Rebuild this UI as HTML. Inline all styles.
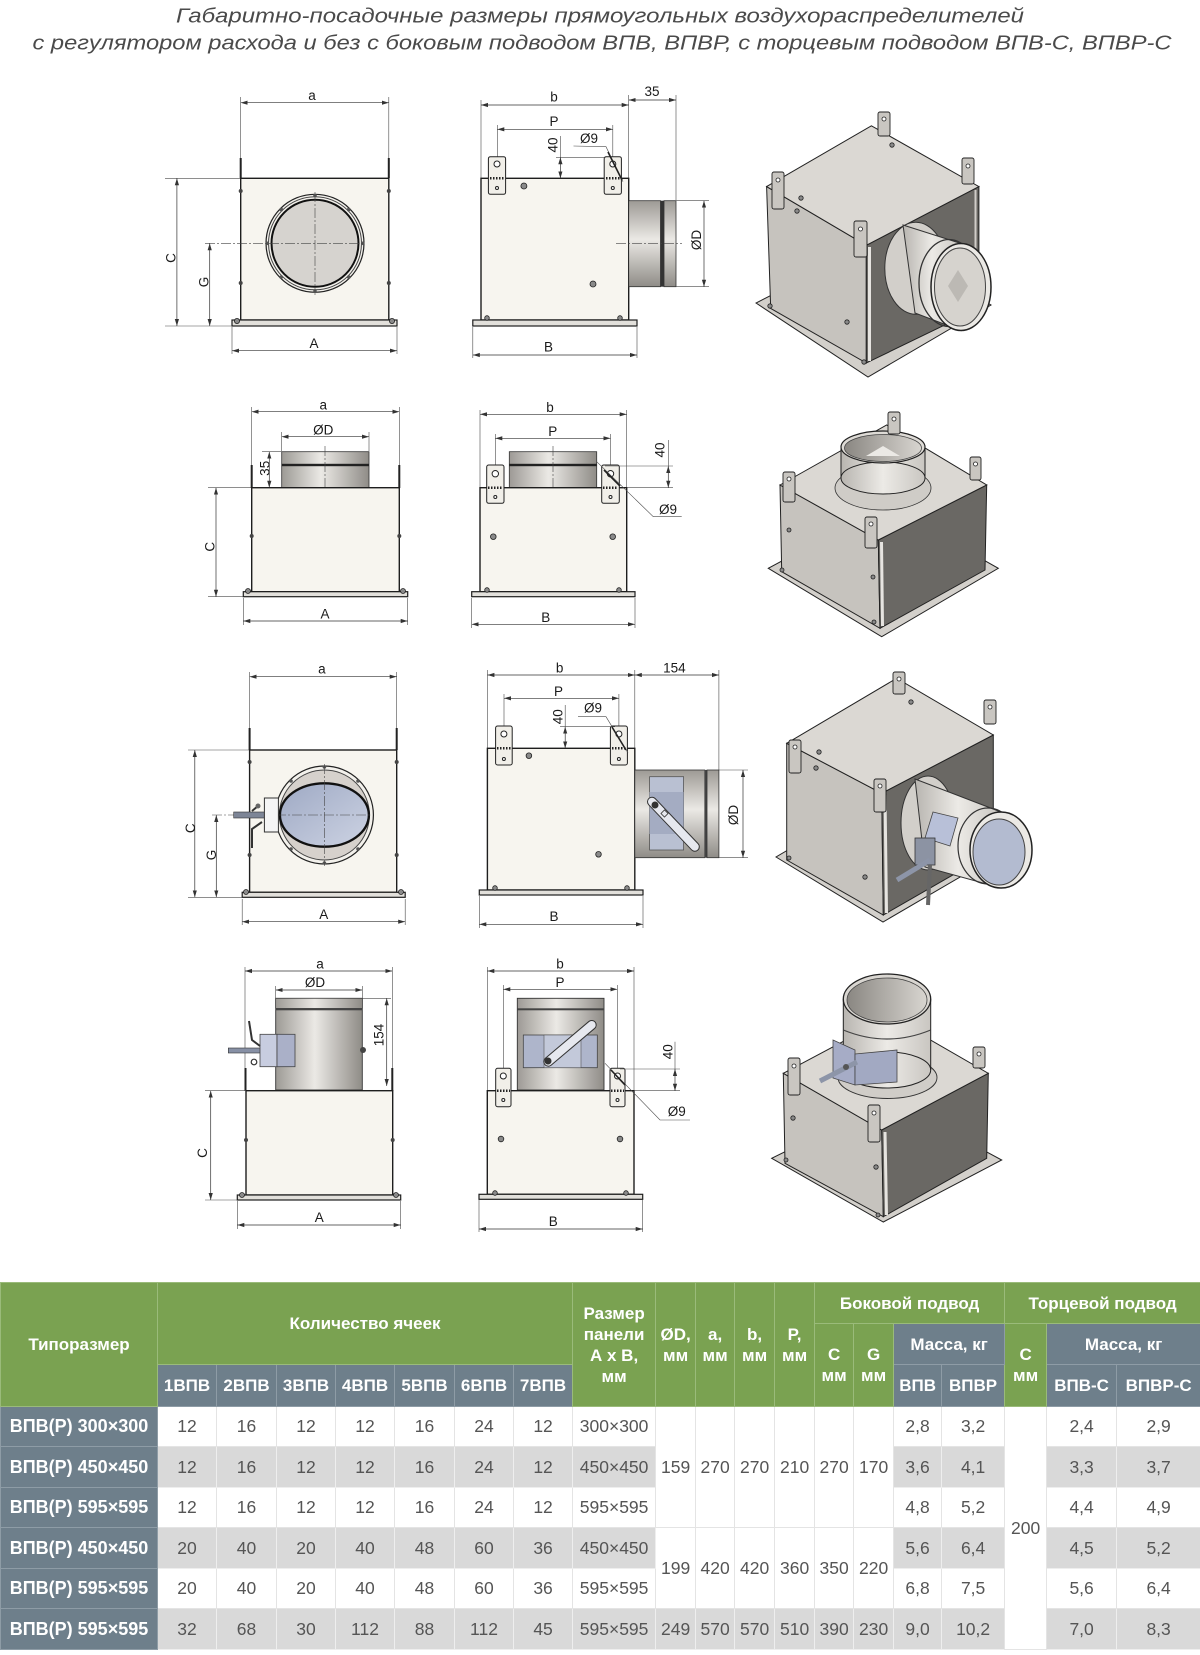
<!DOCTYPE html>
<html><head><meta charset="utf-8">
<style>
html,body{margin:0;padding:0;background:#fff}
body{width:1200px;height:1655px;position:relative;overflow:hidden;font-family:"Liberation Sans",sans-serif}
.e{stroke:#4a4a4a;stroke-width:.6;fill:none}
.d{stroke:#333;stroke-width:.7;fill:none;marker-start:url(#ar);marker-end:url(#ar)}
.c{stroke:#444;stroke-width:.6;stroke-dasharray:10 2 2 2;fill:none}
.bx{fill:#f7f5ef;stroke:#1e1e1e;stroke-width:1.4}
.fl{fill:#e2e0db;stroke:#1e1e1e;stroke-width:1.2}
.br{fill:#f1efe9;stroke:#222;stroke-width:1}
.t{font-family:"Liberation Sans",sans-serif;font-size:13.5px;fill:#1a1a1a;text-anchor:middle}
.sc{fill:#8a8a8a;stroke:#222;stroke-width:.8}
.tp{fill:#dbd8d3;stroke:#222;stroke-width:1}
.lf{fill:#c6c3be;stroke:#222;stroke-width:1}
.rf{fill:#6a6864;stroke:#222;stroke-width:1}
.fi{fill:#d3d0cb;stroke:#222;stroke-width:1}
.ib{fill:#c9c6c1;stroke:#222;stroke-width:.9}
.tk{stroke:#222;stroke-width:2}
table{position:absolute;left:0;top:1282px;width:1200px;border-collapse:collapse;table-layout:fixed}
td{padding:0;text-align:center;vertical-align:middle;overflow:hidden;white-space:nowrap;line-height:21px}
.g{background:#7aa251;color:#fff;font-weight:bold;font-size:17px;border:1px solid #9abb7a}
.s{background:#6e7f8b;color:#fff;font-weight:bold;font-size:17px;border:1px solid #8e9ca6}
.l{background:#6e7f8b;color:#fff;font-weight:bold;font-size:18px;border:1px solid #8e9ca6}
.w{background:#fff;color:#555;font-size:17.5px;border:1px solid #e4e4e4}
.k{background:#d9d9d9;color:#555;font-size:17.5px;border:1px solid #eeeeee}
</style></head><body>
<svg width="1200" height="1280" viewBox="0 0 1200 1280" style="position:absolute;left:0;top:0">
<defs>
<marker id="ar" viewBox="0 0 10 10" refX="10" refY="5" markerWidth="7" markerHeight="7" orient="auto-start-reverse" markerUnits="userSpaceOnUse"><path d="M0,2 L10,5 L0,8 z" fill="#333"/></marker>
<linearGradient id="gv" x1="0" y1="0" x2="0" y2="1"><stop offset="0" stop-color="#9d9a95"/><stop offset=".45" stop-color="#ebe9e5"/><stop offset="1" stop-color="#8f8c87"/></linearGradient>
<linearGradient id="gh" x1="0" y1="0" x2="1" y2="0"><stop offset="0" stop-color="#9d9a95"/><stop offset=".45" stop-color="#ebe9e5"/><stop offset="1" stop-color="#8f8c87"/></linearGradient>
<linearGradient id="gi" x1="0" y1="0" x2="1" y2="0"><stop offset="0" stop-color="#b8b5b0"/><stop offset=".5" stop-color="#eceae6"/><stop offset="1" stop-color="#c9c6c1"/></linearGradient>
<linearGradient id="gn" x1="0" y1="0" x2="1" y2="0"><stop offset="0" stop-color="#8a8782"/><stop offset="1" stop-color="#d8d5d0"/></linearGradient>
<linearGradient id="gb" x1="0" y1="0" x2="1" y2="1"><stop offset="0" stop-color="#9ea9c4"/><stop offset="1" stop-color="#cdd3e3"/></linearGradient>
</defs>

<!-- TITLE -->
<text x="600" y="22.5" text-anchor="middle" font-family="Liberation Sans, sans-serif" font-style="italic" font-size="20" fill="#4a4a4a" textLength="848" lengthAdjust="spacingAndGlyphs">Габаритно-посадочные размеры прямоугольных воздухораспределителей</text>
<text x="602" y="49.5" text-anchor="middle" font-family="Liberation Sans, sans-serif" font-style="italic" font-size="20" fill="#4a4a4a" textLength="1139" lengthAdjust="spacingAndGlyphs">с регулятором расхода и без с боковым подводом ВПВ, ВПВР, с торцевым подводом ВПВ-С, ВПВР-С</text>

<!-- ===== ROW 1 FRONT ===== -->
<line class="e" x1="240.7" y1="97" x2="240.7" y2="160"/>
<line class="e" x1="388.8" y1="97" x2="388.8" y2="160"/>
<line class="d" x1="240.7" y1="102.7" x2="388.8" y2="102.7"/>
<text class="t" x="312" y="100">a</text>
<line class="tk" x1="240.7" y1="158" x2="240.7" y2="178"/>
<line class="tk" x1="388.8" y1="158" x2="388.8" y2="178"/>
<rect class="bx" x="240.7" y="178.3" width="148.1" height="141.7"/>
<rect class="fl" x="232" y="320" width="165" height="6"/>
<circle class="sc" cx="237" cy="321" r="2.6"/><circle class="sc" cx="392" cy="321" r="2.6"/>
<circle cx="240.7" cy="191" r="2" fill="#444"/><circle cx="388.8" cy="191" r="2" fill="#444"/>
<circle cx="240.7" cy="283" r="2" fill="#444"/><circle cx="388.8" cy="283" r="2" fill="#444"/>
<circle cx="315" cy="243.3" r="49" fill="#f3f1ec" stroke="#222" stroke-width="1.2"/>
<circle cx="315" cy="243.3" r="46.5" fill="none" stroke="#444" stroke-width="1"/>
<circle cx="315" cy="243.3" r="43.5" fill="#d6d3cf" stroke="#111" stroke-width="2"/>
<g fill="#555"><circle cx="362.7" cy="243.3" r="1.8"/><circle cx="348.7" cy="209.6" r="1.8"/><circle cx="315" cy="195.6" r="1.8"/><circle cx="281.3" cy="209.6" r="1.8"/><circle cx="267.3" cy="243.3" r="1.8"/><circle cx="281.3" cy="277" r="1.8"/><circle cx="315" cy="291" r="1.8"/><circle cx="348.7" cy="277" r="1.8"/></g>
<line class="c" x1="205" y1="243.3" x2="364" y2="243.3"/>
<line class="c" x1="315" y1="192" x2="315" y2="295"/>
<line class="e" x1="165" y1="178.3" x2="240" y2="178.3"/>
<line class="e" x1="165" y1="326" x2="232" y2="326"/>
<line class="d" x1="176.9" y1="178.3" x2="176.9" y2="326"/>
<text class="t" transform="translate(175.5,258) rotate(-90)">C</text>
<line class="d" x1="209.7" y1="243.3" x2="209.7" y2="326"/>
<text class="t" transform="translate(208.5,282) rotate(-90)">G</text>
<line class="e" x1="232" y1="327" x2="232" y2="354"/>
<line class="e" x1="397" y1="327" x2="397" y2="354"/>
<line class="d" x1="232" y1="350.7" x2="397" y2="350.7"/>
<text class="t" x="314" y="348">A</text>

<!-- ===== ROW 1 SIDE ===== -->
<line class="e" x1="481" y1="100" x2="481" y2="178"/>
<line class="e" x1="628.7" y1="95" x2="628.7" y2="200"/>
<line class="e" x1="676" y1="95" x2="676" y2="200"/>
<line class="d" x1="481" y1="105" x2="628.7" y2="105"/>
<text class="t" x="554" y="101.5">b</text>
<line class="d" x1="628.7" y1="100" x2="676" y2="100"/>
<text class="t" x="652" y="96">35</text>
<line class="e" x1="497.3" y1="125" x2="497.3" y2="162"/>
<line class="e" x1="612.8" y1="125" x2="612.8" y2="162"/>
<line class="d" x1="497.3" y1="129.3" x2="612.8" y2="129.3"/>
<text class="t" x="554" y="126">P</text>
<rect class="bx" x="481" y="178.3" width="147.7" height="141.7"/>
<rect class="br" x="488.4" y="156.7" width="17.2" height="37.6" rx="2"/>
<rect class="br" x="604.2" y="156.7" width="17.2" height="37.6" rx="2"/>
<circle cx="497" cy="164" r="3" fill="#fff" stroke="#222"/><circle cx="612.8" cy="164" r="3" fill="#fff" stroke="#222"/>
<circle cx="497" cy="188" r="1.5" fill="#fff" stroke="#222"/><circle cx="612.8" cy="188" r="1.5" fill="#fff" stroke="#222"/>
<line x1="490" y1="178.3" x2="504" y2="178.3" stroke="#222" stroke-width="2.5" stroke-dasharray="1.5 1.5"/>
<line x1="606" y1="178.3" x2="620" y2="178.3" stroke="#222" stroke-width="2.5" stroke-dasharray="1.5 1.5"/>
<line class="e" x1="556" y1="157.3" x2="606" y2="157.3"/>
<line class="e" x1="560.4" y1="136" x2="560.4" y2="157.3"/>
<line class="d" x1="560.4" y1="157.3" x2="560.4" y2="178.3"/>
<text class="t" transform="translate(557.5,145) rotate(-90)">40</text>
<polyline class="e" points="573.5,146 606,146.7 623,181.7"/>
<line x1="608" y1="152" x2="622" y2="180" stroke="#222" stroke-width="1.6"/>
<text class="t" x="589" y="143">Ø9</text>
<rect x="628.7" y="200.7" width="31.8" height="86" fill="url(#gv)" stroke="#333" stroke-width=".8"/>
<rect x="660.5" y="200.7" width="3.5" height="86" fill="#333"/>
<rect x="664" y="200.7" width="12" height="86" fill="url(#gv)" stroke="#333" stroke-width=".8"/>
<line class="c" x1="616" y1="243.3" x2="682" y2="243.3"/>
<line class="e" x1="676" y1="200.7" x2="709" y2="200.7"/>
<line class="e" x1="676" y1="286.7" x2="709" y2="286.7"/>
<line class="d" x1="704" y1="200.7" x2="704" y2="286.7"/>
<text class="t" transform="translate(701,240) rotate(-90)">ØD</text>
<rect class="fl" x="472.8" y="320" width="164.2" height="6"/>
<circle class="sc" cx="487" cy="318" r="2.3"/><circle class="sc" cx="620" cy="318" r="2.3"/>
<circle class="sc" cx="523.9" cy="186" r="3"/><circle class="sc" cx="593" cy="284" r="3"/>
<line class="e" x1="472.8" y1="327" x2="472.8" y2="358"/>
<line class="e" x1="637" y1="327" x2="637" y2="358"/>
<line class="d" x1="472.8" y1="355" x2="637" y2="355"/>
<text class="t" x="548.5" y="351.5">B</text>

<!-- ===== ROW 1 ISO ===== -->
<polygon class="fi" points="756,303 868,377 991,305 880,240"/>
<polygon class="lf" points="766.6,186.6 866.3,245.3 866.3,363 770.7,308.4"/>
<polygon class="rf" points="866.3,245.3 978.9,186.6 978.9,308.4 866.3,363"/>
<polygon class="tp" points="766.6,186.6 871.4,125.8 978.9,186.6 866.3,245.3"/>
<line x1="869.5" y1="247" x2="869.5" y2="361" stroke="#e6e4e0" stroke-width="3"/>
<line x1="975.5" y1="190" x2="975.5" y2="306" stroke="#d0cdc8" stroke-width="2"/>
<ellipse cx="915.8" cy="268.3" rx="31" ry="46" fill="#d2cfca" stroke="#333" stroke-width="1"/>
<polygon points="903,225 961,243.5 961,330.5 915,313" fill="url(#gi)" stroke="#333" stroke-width="1"/>
<ellipse cx="949" cy="283" rx="30" ry="43.5" fill="none" stroke="#333" stroke-width="1.3"/>
<ellipse cx="961" cy="287" rx="30" ry="43.5" fill="#ebe9e5" stroke="#222" stroke-width="1.5"/>
<ellipse cx="960" cy="287" rx="25.5" ry="39" fill="#d6d3ce" stroke="#444" stroke-width="1"/>
<path d="M948 286 L958 270 L968 286 L958 302 Z" fill="#bcb9b4"/>
<g class="ib"><rect x="878" y="112" width="12" height="24" rx="2"/><rect x="772" y="172" width="12" height="37" rx="2"/><rect x="854" y="221" width="13" height="36" rx="2"/><rect x="962" y="158" width="12" height="26" rx="2"/></g>
<g fill="#fff" stroke="#222" stroke-width=".8"><circle cx="884" cy="119" r="2"/><circle cx="778" cy="180" r="2"/><circle cx="860.5" cy="229" r="2"/><circle cx="968" cy="166" r="2"/></g>
<g class="sc"><circle cx="892" cy="145" r="2.2"/><circle cx="801" cy="198" r="2.2"/><circle cx="797" cy="211" r="2.2"/><circle cx="847" cy="322" r="2.2"/><circle cx="770" cy="306" r="2.2"/><circle cx="864" cy="362" r="2.2"/></g>

<!-- ===== ROW 2 FRONT ===== -->
<line class="e" x1="251.7" y1="407" x2="251.7" y2="466"/>
<line class="e" x1="399.3" y1="407" x2="399.3" y2="466"/>
<line class="d" x1="251.7" y1="411.7" x2="399.3" y2="411.7"/>
<text class="t" x="323.3" y="409.5">a</text>
<line class="tk" x1="251.7" y1="465" x2="251.7" y2="488"/>
<line class="tk" x1="399.3" y1="465" x2="399.3" y2="488"/>
<line class="e" x1="281.7" y1="432" x2="281.7" y2="451"/>
<line class="e" x1="369" y1="432" x2="369" y2="451"/>
<line class="d" x1="281.7" y1="436.7" x2="369" y2="436.7"/>
<text class="t" x="323.3" y="434.5">ØD</text>
<rect x="281.7" y="451.7" width="87.3" height="36" fill="url(#gh)" stroke="#333" stroke-width=".8"/>
<rect x="281.7" y="463.8" width="87.3" height="2.4" fill="#222"/>
<line class="e" x1="262" y1="451.7" x2="281.7" y2="451.7"/>
<line class="d" x1="269.3" y1="451.7" x2="269.3" y2="487.7"/>
<text class="t" transform="translate(269.5,468.3) rotate(-90)">35</text>
<line class="c" x1="325" y1="446" x2="325" y2="494"/>
<rect class="bx" x="251.7" y="487.7" width="147.6" height="104"/>
<rect class="fl" x="243.3" y="591.7" width="164.4" height="5"/>
<circle class="sc" cx="248" cy="591" r="2.5"/><circle class="sc" cx="403" cy="591" r="2.5"/>
<circle cx="251.7" cy="536" r="2" fill="#444"/><circle cx="399.3" cy="536" r="2" fill="#444"/>
<line class="e" x1="208" y1="487.7" x2="251" y2="487.7"/>
<line class="e" x1="208" y1="596.7" x2="243" y2="596.7"/>
<line class="d" x1="216" y1="487.7" x2="216" y2="596.7"/>
<text class="t" transform="translate(214.5,546.7) rotate(-90)">C</text>
<line class="e" x1="243.3" y1="598" x2="243.3" y2="625"/>
<line class="e" x1="407.7" y1="598" x2="407.7" y2="625"/>
<line class="d" x1="243.3" y1="621" x2="407.7" y2="621"/>
<text class="t" x="325" y="618.5">A</text>

<!-- ===== ROW 2 SIDE ===== -->
<line class="e" x1="480" y1="410" x2="480" y2="488"/>
<line class="e" x1="626.7" y1="410" x2="626.7" y2="488"/>
<line class="d" x1="480" y1="414.3" x2="626.7" y2="414.3"/>
<text class="t" x="550" y="412">b</text>
<line class="e" x1="495.3" y1="434" x2="495.3" y2="470"/>
<line class="e" x1="610.5" y1="434" x2="610.5" y2="470"/>
<line class="d" x1="495.3" y1="438.3" x2="610.5" y2="438.3"/>
<text class="t" x="552.7" y="436">P</text>
<rect x="509.3" y="451.7" width="87.4" height="36" fill="url(#gh)" stroke="#333" stroke-width=".8"/>
<rect x="509.3" y="463.8" width="87.4" height="2.4" fill="#222"/>
<line class="c" x1="553" y1="446" x2="553" y2="500"/>
<rect class="bx" x="480" y="487.7" width="146.7" height="104"/>
<rect class="br" x="486.7" y="465" width="17.3" height="38.3" rx="2"/>
<rect class="br" x="601.7" y="465" width="17.6" height="38.3" rx="2"/>
<circle cx="495.3" cy="473.7" r="3.2" fill="#fff" stroke="#222"/><circle cx="610.5" cy="473.7" r="3.2" fill="#fff" stroke="#222"/>
<circle cx="495.3" cy="497" r="1.5" fill="#fff" stroke="#222"/><circle cx="610.5" cy="497" r="1.5" fill="#fff" stroke="#222"/>
<line x1="488" y1="487.7" x2="503" y2="487.7" stroke="#222" stroke-width="2.5" stroke-dasharray="1.5 1.5"/>
<line x1="603" y1="487.7" x2="618" y2="487.7" stroke="#222" stroke-width="2.5" stroke-dasharray="1.5 1.5"/>
<line class="e" x1="605" y1="466" x2="673" y2="466"/>
<line class="e" x1="627" y1="487.7" x2="673" y2="487.7"/>
<line class="e" x1="668.3" y1="440" x2="668.3" y2="466"/>
<line class="d" x1="668.3" y1="466" x2="668.3" y2="487.7"/>
<text class="t" transform="translate(664.5,450) rotate(-90)">40</text>
<polyline class="e" points="596.7,461.7 653.3,516.7 681.7,516.7"/>
<line x1="604" y1="470" x2="620" y2="486" stroke="#222" stroke-width="1.6"/>
<text class="t" x="668" y="514">Ø9</text>
<rect class="fl" x="471.7" y="591.7" width="163.3" height="5"/>
<circle class="sc" cx="487" cy="590" r="2.3"/><circle class="sc" cx="619" cy="590" r="2.3"/>
<circle class="sc" cx="493.3" cy="536.7" r="2.8"/><circle class="sc" cx="612.7" cy="536.7" r="2.8"/>
<line class="e" x1="471.7" y1="598" x2="471.7" y2="628"/>
<line class="e" x1="635" y1="598" x2="635" y2="628"/>
<line class="d" x1="471.7" y1="624.3" x2="635" y2="624.3"/>
<text class="t" x="545.7" y="622">B</text>

<!-- ===== ROW 2 ISO ===== -->
<polygon class="fi" points="768.3,568.3 881.7,636.7 998.3,568.3 886,505"/>
<polygon class="lf" points="780,485 878.3,540 880,628.3 781.7,571.7"/>
<polygon class="rf" points="878.3,540 986.7,485 985,570 880,628.3"/>
<polygon class="tp" points="780,485 886.7,425 986.7,485 878.3,540"/>
<line x1="881.5" y1="542" x2="882.5" y2="626" stroke="#e6e4e0" stroke-width="3"/>
<ellipse cx="883" cy="488" rx="48" ry="22" fill="#cfccc7" stroke="#333" stroke-width=".8"/>
<rect x="841" y="447" width="84" height="31" fill="url(#gi)"/>
<ellipse cx="883" cy="478" rx="42" ry="16" fill="url(#gi)" stroke="#222" stroke-width="1"/>
<line x1="841" y1="447" x2="841" y2="478" stroke="#222"/><line x1="925" y1="447" x2="925" y2="478" stroke="#222"/>
<ellipse cx="883" cy="447" rx="42" ry="16" fill="#dedbd6" stroke="#222" stroke-width="1.2"/>
<ellipse cx="883" cy="448" rx="38.5" ry="13.5" fill="url(#gn)" stroke="#444" stroke-width=".8"/>
<path d="M866 456 L883 446 L900 456 Z" fill="#ebe9e5"/>
<g class="ib"><rect x="888" y="412" width="12" height="22" rx="2"/><rect x="783" y="472" width="12" height="30" rx="2"/><rect x="865" y="517" width="12" height="31" rx="2"/><rect x="970" y="457" width="11" height="23" rx="2"/></g>
<g fill="#fff" stroke="#222" stroke-width=".8"><circle cx="894" cy="419" r="2"/><circle cx="789" cy="479" r="2"/><circle cx="871" cy="524" r="2"/><circle cx="975.5" cy="464" r="2"/></g>
<g class="sc"><circle cx="789" cy="530" r="2"/><circle cx="873" cy="577" r="2"/><circle cx="782" cy="570" r="2"/><circle cx="874" cy="622" r="2"/></g>

<!-- ===== ROW 3 FRONT ===== -->
<line class="e" x1="249.6" y1="672" x2="249.6" y2="730"/>
<line class="e" x1="396.7" y1="672" x2="396.7" y2="730"/>
<line class="d" x1="249.6" y1="676.7" x2="396.7" y2="676.7"/>
<text class="t" x="321.9" y="673.5">a</text>
<line class="tk" x1="249.6" y1="728" x2="249.6" y2="750"/>
<line class="tk" x1="396.7" y1="728" x2="396.7" y2="750"/>
<rect class="bx" x="249.6" y="750" width="147.1" height="142.3"/>
<rect class="fl" x="242.2" y="892.3" width="163" height="5"/>
<circle class="sc" cx="246" cy="892" r="2.5"/><circle class="sc" cx="401" cy="892" r="2.5"/>
<circle cx="249.6" cy="762" r="2" fill="#444"/><circle cx="396.7" cy="762" r="2" fill="#444"/>
<circle cx="249.6" cy="855" r="2" fill="#444"/><circle cx="396.7" cy="855" r="2" fill="#444"/>
<circle cx="324.4" cy="815" r="49" fill="#f3f1ec" stroke="#222" stroke-width="1.2"/>
<circle cx="324.4" cy="815" r="45" fill="#d6d1cc" stroke="#444" stroke-width="1"/>
<ellipse cx="324.4" cy="815" rx="44.5" ry="31.7" fill="url(#gb)" stroke="#111" stroke-width="2.4"/>
<g fill="#555"><circle cx="324.4" cy="767" r="1.8"/><circle cx="358" cy="781" r="1.8"/><circle cx="291" cy="781" r="1.8"/><circle cx="358" cy="849" r="1.8"/><circle cx="291" cy="849" r="1.8"/><circle cx="324.4" cy="863" r="1.8"/></g>
<line class="c" x1="212" y1="815" x2="372" y2="815"/>
<line class="c" x1="324.4" y1="764" x2="324.4" y2="866"/>
<rect x="233.7" y="812" width="44" height="6" fill="#7d8596" stroke="#333" stroke-width=".6"/>
<rect x="264.4" y="798" width="14" height="34" fill="#f5f5f5" stroke="#333" stroke-width="1"/>
<path d="M258 806 L252 811 M262 822 L252 829 L252 848" stroke="#333" stroke-width="2" fill="none"/>
<circle cx="258" cy="806" r="2.5" fill="#666"/>
<line class="e" x1="188" y1="750" x2="249" y2="750"/>
<line class="e" x1="188" y1="897.3" x2="242" y2="897.3"/>
<line class="d" x1="194.8" y1="750" x2="194.8" y2="897.3"/>
<text class="t" transform="translate(195,828.3) rotate(-90)">C</text>
<line class="d" x1="216.3" y1="815" x2="216.3" y2="897.3"/>
<text class="t" transform="translate(216,855) rotate(-90)">G</text>
<line class="e" x1="242.2" y1="899" x2="242.2" y2="925"/>
<line class="e" x1="405.2" y1="899" x2="405.2" y2="925"/>
<line class="d" x1="242.2" y1="921.7" x2="405.2" y2="921.7"/>
<text class="t" x="323.7" y="919">A</text>

<!-- ===== ROW 3 SIDE ===== -->
<line class="e" x1="487.4" y1="670" x2="487.4" y2="748"/>
<line class="e" x1="634.8" y1="670" x2="634.8" y2="770"/>
<line class="e" x1="718.9" y1="670" x2="718.9" y2="770"/>
<line class="d" x1="487.4" y1="675" x2="634.8" y2="675"/>
<text class="t" x="559.6" y="672.5">b</text>
<line class="d" x1="634.8" y1="675" x2="718.9" y2="675"/>
<text class="t" x="674.4" y="672.5">154</text>
<line class="e" x1="504" y1="694" x2="504" y2="732"/>
<line class="e" x1="618.9" y1="694" x2="618.9" y2="732"/>
<line class="d" x1="504" y1="698.3" x2="618.9" y2="698.3"/>
<text class="t" x="558.5" y="696">P</text>
<rect class="bx" x="487.4" y="748.3" width="147.4" height="141.7"/>
<rect class="br" x="495.6" y="726" width="16.6" height="39" rx="2"/>
<rect class="br" x="610.4" y="726" width="17" height="39" rx="2"/>
<circle cx="503.9" cy="734" r="3" fill="#fff" stroke="#222"/><circle cx="618.9" cy="734" r="3" fill="#fff" stroke="#222"/>
<circle cx="503.9" cy="759" r="1.5" fill="#fff" stroke="#222"/><circle cx="618.9" cy="759" r="1.5" fill="#fff" stroke="#222"/>
<line x1="497" y1="748.3" x2="511" y2="748.3" stroke="#222" stroke-width="2.5" stroke-dasharray="1.5 1.5"/>
<line x1="612" y1="748.3" x2="626" y2="748.3" stroke="#222" stroke-width="2.5" stroke-dasharray="1.5 1.5"/>
<line class="e" x1="560" y1="726.7" x2="615" y2="726.7"/>
<line class="e" x1="565.2" y1="705" x2="565.2" y2="726.7"/>
<line class="d" x1="565.2" y1="726.7" x2="565.2" y2="748.3"/>
<text class="t" transform="translate(562.5,716.7) rotate(-90)">40</text>
<polyline class="e" points="578,716.7 606,716.7 628,753"/>
<line x1="612" y1="727" x2="626" y2="750" stroke="#222" stroke-width="1.6"/>
<text class="t" x="593" y="712.5">Ø9</text>
<rect x="634.8" y="770" width="70" height="87.7" fill="url(#gv)" stroke="#333" stroke-width=".8"/>
<rect x="704.5" y="770" width="2.5" height="87.7" fill="#444"/>
<rect x="707" y="770" width="11.9" height="87.7" fill="url(#gv)" stroke="#333" stroke-width=".8"/>
<rect x="649.6" y="776.7" width="34" height="73.3" fill="#b9c0d2" stroke="#555" stroke-width=".8"/>
<rect x="649.6" y="792" width="34" height="42" fill="#a4acc2"/>
<line x1="652" y1="801.7" x2="694.8" y2="846.7" stroke="#333" stroke-width="10" stroke-linecap="round"/>
<line x1="652" y1="801.7" x2="694.8" y2="846.7" stroke="#e6e8ef" stroke-width="8" stroke-linecap="round"/>
<circle cx="655" cy="805" r="3.5" fill="#333"/>
<rect x="662" y="811" width="5" height="5" fill="none" stroke="#333" stroke-width=".8" transform="rotate(45 664.5 813.5)"/>
<line class="e" x1="719" y1="770" x2="748" y2="770"/>
<line class="e" x1="719" y1="857.7" x2="748" y2="857.7"/>
<line class="d" x1="743" y1="770" x2="743" y2="857.7"/>
<text class="t" transform="translate(738,815) rotate(-90)">ØD</text>
<rect class="fl" x="479.3" y="890" width="163.7" height="5"/>
<circle class="sc" cx="495" cy="888" r="2.3"/><circle class="sc" cx="627" cy="888" r="2.3"/>
<circle class="sc" cx="528.9" cy="755.7" r="2.8"/><circle class="sc" cx="598.5" cy="854.3" r="2.8"/>
<line class="e" x1="479.3" y1="896" x2="479.3" y2="928"/>
<line class="e" x1="643" y1="896" x2="643" y2="928"/>
<line class="d" x1="479.3" y1="924.3" x2="643" y2="924.3"/>
<text class="t" x="554" y="921">B</text>

<!-- ===== ROW 3 ISO ===== -->
<polygon class="fi" points="776,857 883,922 1003,852 890,790"/>
<polygon class="lf" points="786.7,743.3 881.7,793.3 883.3,915 786.7,860"/>
<polygon class="rf" points="881.7,793.3 993.3,735 993.3,851.7 883.3,915"/>
<polygon class="tp" points="786.7,743.3 896.7,678.3 993.3,735 881.7,793.3"/>
<line x1="885" y1="795" x2="886.5" y2="913" stroke="#e6e4e0" stroke-width="3"/>
<ellipse cx="928" cy="823" rx="27" ry="47" fill="#d2cfca" stroke="#333" stroke-width="1"/>
<polygon points="915,779 1001,812 1001,888 925,867" fill="url(#gi)" stroke="#333" stroke-width="1"/>
<ellipse cx="988" cy="846" rx="30" ry="38" fill="none" stroke="#333" stroke-width="1.2"/>
<ellipse cx="1001" cy="850" rx="31" ry="38" fill="#ebe9e5" stroke="#222" stroke-width="1.5"/>
<ellipse cx="999" cy="852" rx="26" ry="33" fill="#b3bbd0" stroke="#444" stroke-width="1"/>
<polygon points="933,812 958,818 950,846 925,838" fill="#b8c0d8" stroke="#444" stroke-width=".8"/>
<rect x="915" y="838" width="20" height="27" fill="#8c93a3" stroke="#333" stroke-width=".8"/>
<line x1="897" y1="880" x2="930" y2="860" stroke="#8d95a8" stroke-width="5"/>
<line x1="930" y1="865" x2="928" y2="905" stroke="#666" stroke-width="4"/>
<g class="ib"><rect x="893" y="672" width="12" height="22" rx="2"/><rect x="789" y="740" width="12" height="33" rx="2"/><rect x="874" y="779" width="12" height="33" rx="2"/><rect x="984" y="700" width="12" height="24" rx="2"/></g>
<g fill="#fff" stroke="#222" stroke-width=".8"><circle cx="899" cy="679" r="2"/><circle cx="795" cy="747" r="2"/><circle cx="880" cy="786" r="2"/><circle cx="990" cy="707" r="2"/></g>
<g class="sc"><circle cx="911" cy="702" r="2.2"/><circle cx="819" cy="752" r="2.2"/><circle cx="816" cy="768" r="2.2"/><circle cx="865" cy="877" r="2.2"/><circle cx="789" cy="858" r="2"/></g>

<!-- ===== ROW 4 FRONT ===== -->
<line class="e" x1="245" y1="967" x2="245" y2="1070"/>
<line class="e" x1="392.3" y1="967" x2="392.3" y2="1070"/>
<line class="d" x1="245" y1="971" x2="392.3" y2="971"/>
<text class="t" x="320" y="968.5">a</text>
<line class="tk" x1="245.5" y1="1068" x2="245.5" y2="1091"/>
<line class="tk" x1="392.3" y1="1068" x2="392.3" y2="1091"/>
<line class="e" x1="275.7" y1="986" x2="275.7" y2="998"/>
<line class="e" x1="362.3" y1="986" x2="362.3" y2="998"/>
<line class="d" x1="275.7" y1="990" x2="362.3" y2="990"/>
<text class="t" x="315" y="987">ØD</text>
<rect x="275.7" y="998.3" width="86.6" height="91.7" fill="url(#gh)" stroke="#333" stroke-width=".9"/>
<rect x="275.7" y="998.3" width="86.6" height="10" fill="url(#gh)" stroke="#333" stroke-width=".6" opacity=".8"/>
<rect x="275.7" y="1008.3" width="86.6" height="2" fill="#444"/>
<circle cx="363" cy="1050" r="3" fill="#444"/>
<line class="e" x1="362.3" y1="998.3" x2="391" y2="998.3"/>
<line class="d" x1="386.7" y1="998.3" x2="386.7" y2="1086"/>
<text class="t" transform="translate(383.5,1035) rotate(-90)">154</text>
<rect x="228.3" y="1048" width="32" height="5" fill="#8790a5" stroke="#333" stroke-width=".6"/>
<rect x="260" y="1034.3" width="17" height="32.4" fill="#c8cde0" stroke="#444" stroke-width=".8"/>
<rect x="277" y="1034.3" width="18" height="32.4" fill="#aab0c8" stroke="#444" stroke-width=".8"/>
<path d="M249 1021 L252 1040 L260 1046" stroke="#333" stroke-width="2" fill="none"/>
<circle cx="254" cy="1062" r="2.8" fill="none" stroke="#333" stroke-width="1.2"/>
<rect class="bx" x="246" y="1090.7" width="146.7" height="104.3"/>
<rect class="fl" x="237.3" y="1195" width="163.4" height="5"/>
<circle class="sc" cx="242" cy="1195" r="2.5"/><circle class="sc" cx="396" cy="1195" r="2.5"/>
<circle cx="246" cy="1140" r="2" fill="#444"/><circle cx="392.7" cy="1140" r="2" fill="#444"/>
<line class="e" x1="205" y1="1090.7" x2="246" y2="1090.7"/>
<line class="e" x1="205" y1="1200" x2="237" y2="1200"/>
<line class="d" x1="210.7" y1="1090.7" x2="210.7" y2="1200"/>
<text class="t" transform="translate(207,1153) rotate(-90)">C</text>
<line class="e" x1="237.3" y1="1201" x2="237.3" y2="1229"/>
<line class="e" x1="400.7" y1="1201" x2="400.7" y2="1229"/>
<line class="d" x1="237.3" y1="1225" x2="400.7" y2="1225"/>
<text class="t" x="319.3" y="1222">A</text>

<!-- ===== ROW 4 SIDE ===== -->
<line class="e" x1="487.3" y1="967" x2="487.3" y2="1090"/>
<line class="e" x1="634" y1="967" x2="634" y2="1090"/>
<line class="d" x1="487.3" y1="971" x2="634" y2="971"/>
<text class="t" x="560" y="968.5">b</text>
<line class="e" x1="503.3" y1="985" x2="503.3" y2="1072"/>
<line class="e" x1="617.3" y1="985" x2="617.3" y2="1072"/>
<line class="d" x1="503.3" y1="989.3" x2="617.3" y2="989.3"/>
<text class="t" x="560" y="987">P</text>
<rect x="517.3" y="998.3" width="86.7" height="91.7" fill="url(#gh)" stroke="#333" stroke-width=".9"/>
<rect x="517.3" y="1008.3" width="86.7" height="2" fill="#444"/>
<rect x="523.3" y="1035" width="74" height="32.7" fill="#aeb5cb" stroke="#444" stroke-width=".8"/>
<rect x="544" y="1035" width="37" height="32.7" fill="#c3c9da" stroke="#555" stroke-width=".6"/>
<line x1="548.3" y1="1061.7" x2="591.7" y2="1025" stroke="#333" stroke-width="10" stroke-linecap="round"/>
<line x1="548.3" y1="1061.7" x2="591.7" y2="1025" stroke="#e6e8ef" stroke-width="8" stroke-linecap="round"/>
<circle cx="548" cy="1061" r="3.5" fill="#333"/>
<rect class="bx" x="487.3" y="1090.7" width="146.7" height="103.6"/>
<rect class="br" x="495.7" y="1068.3" width="15.3" height="38.4" rx="2"/>
<rect class="br" x="610" y="1068.3" width="15" height="38.4" rx="2"/>
<circle cx="503.3" cy="1076" r="3" fill="#fff" stroke="#222"/><circle cx="617.5" cy="1076" r="3" fill="#fff" stroke="#222"/>
<circle cx="503.3" cy="1100" r="1.5" fill="#fff" stroke="#222"/><circle cx="617.5" cy="1100" r="1.5" fill="#fff" stroke="#222"/>
<line x1="497" y1="1090.7" x2="510" y2="1090.7" stroke="#222" stroke-width="2.5" stroke-dasharray="1.5 1.5"/>
<line x1="611" y1="1090.7" x2="624" y2="1090.7" stroke="#222" stroke-width="2.5" stroke-dasharray="1.5 1.5"/>
<line class="e" x1="620" y1="1069" x2="680" y2="1069"/>
<line class="e" x1="634" y1="1090.7" x2="680" y2="1090.7"/>
<line class="e" x1="675" y1="1041.7" x2="675" y2="1069"/>
<line class="d" x1="675" y1="1069" x2="675" y2="1090.7"/>
<text class="t" transform="translate(672.5,1051.7) rotate(-90)">40</text>
<polyline class="e" points="605,1063.3 660,1120 690,1120"/>
<line x1="611" y1="1070" x2="625" y2="1085" stroke="#222" stroke-width="1.6"/>
<text class="t" x="676.7" y="1116">Ø9</text>
<rect class="fl" x="479" y="1194.3" width="163.7" height="5"/>
<circle class="sc" cx="495" cy="1193" r="2.3"/><circle class="sc" cx="626" cy="1193" r="2.3"/>
<circle class="sc" cx="501" cy="1139" r="2.8"/><circle class="sc" cx="620" cy="1139" r="2.8"/>
<line class="e" x1="479" y1="1200" x2="479" y2="1232"/>
<line class="e" x1="642.7" y1="1200" x2="642.7" y2="1232"/>
<line class="d" x1="479" y1="1229" x2="642.7" y2="1229"/>
<text class="t" x="553.3" y="1226">B</text>

<!-- ===== ROW 4 ISO ===== -->
<polygon class="fi" points="771.7,1158.3 883.3,1222 1001.7,1160 890,1100"/>
<polygon class="lf" points="783.3,1073.3 881.7,1130 883.3,1216.7 785,1163.3"/>
<polygon class="rf" points="881.7,1130 988.3,1073.3 986.7,1158.3 883.3,1216.7"/>
<polygon class="tp" points="783.3,1073.3 889.9,1016.6 988.3,1073.3 881.7,1130"/>
<line x1="885" y1="1132" x2="886.5" y2="1215" stroke="#e6e4e0" stroke-width="3"/>
<ellipse cx="887.5" cy="1077.5" rx="49.5" ry="21" fill="#d0cdc8" stroke="#333" stroke-width=".9"/>
<rect x="843.3" y="999" width="87.4" height="71" fill="url(#gi)"/>
<ellipse cx="887" cy="1070" rx="43.7" ry="18" fill="url(#gi)" stroke="#222" stroke-width="1"/>
<line x1="843.3" y1="999" x2="843.3" y2="1070" stroke="#222"/><line x1="930.7" y1="999" x2="930.7" y2="1070" stroke="#222"/>
<path d="M843.3 1030 Q887 1048 930.7 1030" fill="none" stroke="#444" stroke-width="1.2"/>
<ellipse cx="887" cy="999" rx="43.7" ry="25" fill="#d9d6d1" stroke="#222" stroke-width="1.3"/>
<ellipse cx="887" cy="1000" rx="40" ry="22" fill="url(#gn)" stroke="#444" stroke-width=".8"/>
<polygon points="833,1040 855,1050 855,1085 833,1078" fill="#a6acc6" stroke="#444" stroke-width=".8"/>
<polygon points="855,1054 897,1050 897,1082 855,1085" fill="#a2a9c2" stroke="#444" stroke-width=".8"/>
<line x1="820" y1="1081" x2="857" y2="1062" stroke="#8d95a8" stroke-width="5"/>
<circle cx="846" cy="1067" r="3" fill="#555"/>
<g class="ib"><rect x="788" y="1058" width="12" height="37" rx="2"/><rect x="868" y="1105" width="12" height="37" rx="2"/><rect x="973" y="1047" width="12" height="21" rx="2"/></g>
<g fill="#fff" stroke="#222" stroke-width=".8"><circle cx="794" cy="1066" r="2"/><circle cx="874" cy="1113" r="2"/><circle cx="979" cy="1054" r="2"/></g>
<g class="sc"><circle cx="793" cy="1118" r="2.2"/><circle cx="876" cy="1167" r="2.2"/><circle cx="786" cy="1160" r="2"/><circle cx="878" cy="1215" r="2"/></g>
</svg>

<table>
<colgroup>
<col style="width:157px"><col style="width:59px"><col style="width:60px"><col style="width:59px"><col style="width:59px"><col style="width:60px"><col style="width:59px"><col style="width:59px">
<col style="width:83px"><col style="width:40px"><col style="width:39px"><col style="width:40px"><col style="width:40px"><col style="width:39px"><col style="width:40px"><col style="width:48px"><col style="width:63px"><col style="width:42px"><col style="width:70px"><col style="width:84px">
</colgroup>
<tr style="height:41px">
<td class="g" rowspan="3">Типоразмер</td>
<td class="g" colspan="7" rowspan="2">Количество ячеек</td>
<td class="g" rowspan="3">Размер<br>панели<br>А х В,<br>мм</td>
<td class="g" rowspan="3">ØD,<br>мм</td>
<td class="g" rowspan="3">a,<br>мм</td>
<td class="g" rowspan="3">b,<br>мм</td>
<td class="g" rowspan="3">P,<br>мм</td>
<td class="g" colspan="4">Боковой подвод</td>
<td class="g" colspan="3">Торцевой подвод</td>
</tr>
<tr style="height:41px">
<td class="g" rowspan="2">C<br>мм</td>
<td class="g" rowspan="2">G<br>мм</td>
<td class="s" colspan="2">Масса, кг</td>
<td class="g" rowspan="2">C<br>мм</td>
<td class="s" colspan="2">Масса, кг</td>
</tr>
<tr style="height:42px">
<td class="s">1ВПВ</td><td class="s">2ВПВ</td><td class="s">3ВПВ</td><td class="s">4ВПВ</td><td class="s">5ВПВ</td><td class="s">6ВПВ</td><td class="s">7ВПВ</td>
<td class="s">ВПВ</td><td class="s">ВПВР</td>
<td class="s">ВПВ-С</td><td class="s">ВПВР-С</td>
</tr>
<tr style="height:40px">
<td class="l">ВПВ(Р) 300×300</td>
<td class="w">12</td><td class="w">16</td><td class="w">12</td><td class="w">12</td><td class="w">16</td><td class="w">24</td><td class="w">12</td>
<td class="w">300×300</td>
<td class="w" rowspan="3">159</td><td class="w" rowspan="3">270</td><td class="w" rowspan="3">270</td><td class="w" rowspan="3">210</td><td class="w" rowspan="3">270</td><td class="w" rowspan="3">170</td>
<td class="w">2,8</td><td class="w">3,2</td>
<td class="w" rowspan="6">200</td>
<td class="w">2,4</td><td class="w">2,9</td>
</tr>
<tr style="height:41px">
<td class="l">ВПВ(Р) 450×450</td>
<td class="k">12</td><td class="k">16</td><td class="k">12</td><td class="k">12</td><td class="k">16</td><td class="k">24</td><td class="k">12</td>
<td class="k">450×450</td>
<td class="k">3,6</td><td class="k">4,1</td>
<td class="k">3,3</td><td class="k">3,7</td>
</tr>
<tr style="height:40px">
<td class="l">ВПВ(Р) 595×595</td>
<td class="w">12</td><td class="w">16</td><td class="w">12</td><td class="w">12</td><td class="w">16</td><td class="w">24</td><td class="w">12</td>
<td class="w">595×595</td>
<td class="w">4,8</td><td class="w">5,2</td>
<td class="w">4,4</td><td class="w">4,9</td>
</tr>
<tr style="height:41px">
<td class="l">ВПВ(Р) 450×450</td>
<td class="k">20</td><td class="k">40</td><td class="k">20</td><td class="k">40</td><td class="k">48</td><td class="k">60</td><td class="k">36</td>
<td class="k">450×450</td>
<td class="w" rowspan="2">199</td><td class="w" rowspan="2">420</td><td class="w" rowspan="2">420</td><td class="w" rowspan="2">360</td><td class="w" rowspan="2">350</td><td class="w" rowspan="2">220</td>
<td class="k">5,6</td><td class="k">6,4</td>
<td class="k">4,5</td><td class="k">5,2</td>
</tr>
<tr style="height:40px">
<td class="l">ВПВ(Р) 595×595</td>
<td class="w">20</td><td class="w">40</td><td class="w">20</td><td class="w">40</td><td class="w">48</td><td class="w">60</td><td class="w">36</td>
<td class="w">595×595</td>
<td class="w">6,8</td><td class="w">7,5</td>
<td class="w">5,6</td><td class="w">6,4</td>
</tr>
<tr style="height:41px">
<td class="l">ВПВ(Р) 595×595</td>
<td class="k">32</td><td class="k">68</td><td class="k">30</td><td class="k">112</td><td class="k">88</td><td class="k">112</td><td class="k">45</td>
<td class="k">595×595</td>
<td class="k">249</td><td class="k">570</td><td class="k">570</td><td class="k">510</td><td class="k">390</td><td class="k">230</td>
<td class="k">9,0</td><td class="k">10,2</td>
<td class="k">7,0</td><td class="k">8,3</td>
</tr>
</table>
</body></html>
